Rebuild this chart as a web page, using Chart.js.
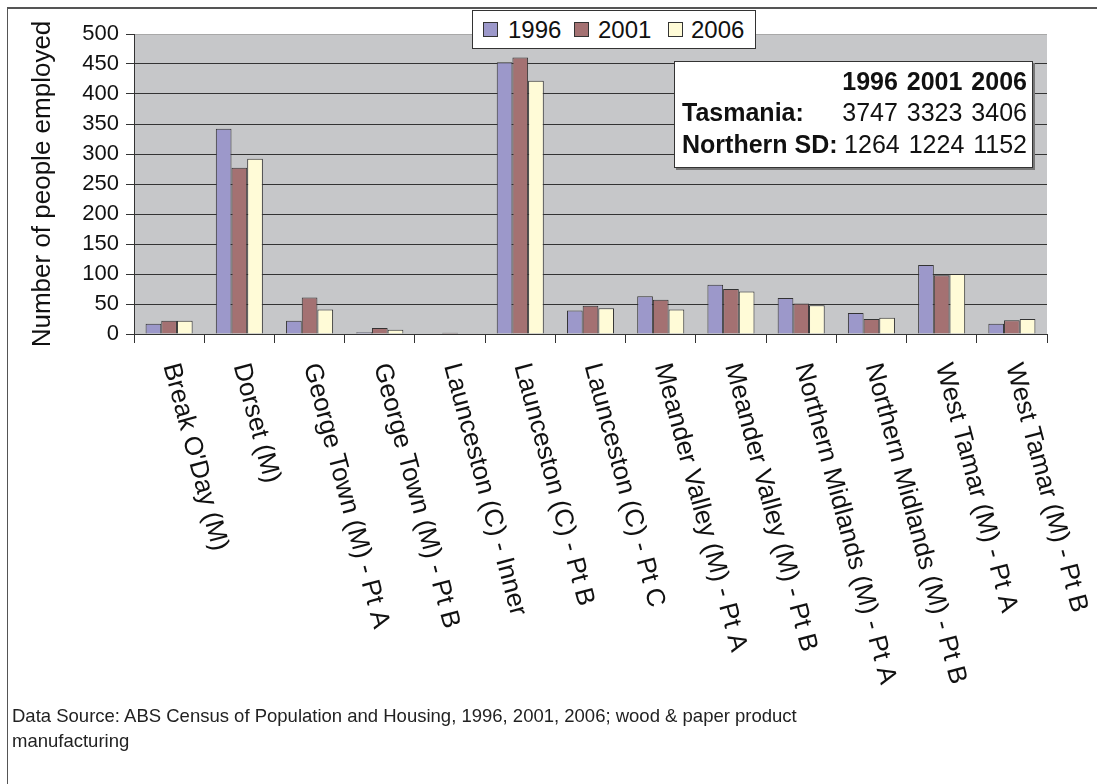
<!DOCTYPE html>
<html>
<head>
<meta charset="utf-8">
<script src="https://cdn.jsdelivr.net/npm/chart.js@4/dist/chart.umd.min.js"></script>
<style>
  body { margin: 0; background: #fff; font-family: "Liberation Sans", Arial, sans-serif; color: #111; }
  #wrap { position: relative; width: 1097px; height: 784px; overflow: hidden; }
  #frame { position: absolute; left: 7px; top: 7px; width: 1200px; height: 900px;
           border-top: 2px solid #555; border-left: 1px solid #555; pointer-events: none; }
  #legend { position: absolute; left: 472px; top: 10px; width: 282px; height: 37px;
            background: #fff; border: 1px solid #333; font-size: 24px; line-height: 37px; }
  .it { position: absolute; top: 0; }
  .sw { position: absolute; top: 11px; width: 13px; height: 13px; border: 1px solid #333; }
  #table { position: absolute; left: 674px; top: 61px; width: 357px; height: 105px;
           background: #fff; border: 1px solid #333; box-shadow: 2px 2px 0 #777; font-size: 25px; }
  .row { position: absolute; left: 7px; right: 5px; height: 30px; line-height: 30px; }
  .row b { position: absolute; left: 0; }
  .row span { position: absolute; right: 0; word-spacing: 2px; }
  #note { position: absolute; left: 12px; top: 703px; font-size: 18.5px; line-height: 25px; color: #222; }
</style>
</head>
<body>
<div id="wrap">
  <canvas id="myChart" width="1097" height="784"></canvas>
  <div id="frame"></div>
  <div id="legend"></div>
  <div id="table"></div>
  <div id="note">Data Source: ABS Census of Population and Housing, 1996, 2001, 2006; wood &amp; paper product<br>manufacturing</div>
</div>
<script>
// Dados
var categorias = [
    "Break O'Day (M)",
    "Dorset (M)",
    "George Town (M) - Pt A",
    "George Town (M) - Pt B",
    "Launceston (C) - Inner",
    "Launceston (C) - Pt B",
    "Launceston (C) - Pt C",
    "Meander Valley (M) - Pt A",
    "Meander Valley (M) - Pt B",
    "Northern Midlands (M) - Pt A",
    "Northern Midlands (M) - Pt B",
    "West Tamar (M) - Pt A",
    "West Tamar (M) - Pt B"
];
var anos = ['1996', '2001', '2006'];
var v1996 = [17, 342, 22, 3, 0, 453, 39, 63, 82, 60, 35, 115, 17];
var v2001 = [22, 277, 61, 10, 2, 461, 47, 57, 75, 51, 25, 98, 23];
var v2006 = [22, 292, 41, 7, 0, 422, 43, 41, 71, 48, 27, 100, 25];
var tasmania = [3747, 3323, 3406];
var northernSD = [1264, 1224, 1152];
var yTicks = [0, 50, 100, 150, 200, 250, 300, 350, 400, 450, 500];

var cores = ['#9C98CA', '#A47172', '#FFFBD7'];
var fonte = '"Liberation Sans", Arial, sans-serif';

// legenda
var legendX = [[10, 35], [101, 125], [195, 218]];
var leg = document.getElementById('legend');
anos.forEach(function (a, i) {
    leg.innerHTML += '<div class="sw" style="left:' + legendX[i][0] + 'px;background:' + cores[i] + '"></div>' +
        '<div class="it" style="left:' + legendX[i][1] + 'px">' + a + '</div>';
});

// tabela
var tab = document.getElementById('table');
tab.innerHTML =
    '<div class="row" style="top:4px"><span><b style="position:static">' + anos.join(' ') + '</b></span></div>' +
    '<div class="row" style="top:35px"><b>Tasmania:</b><span>' + tasmania.join(' ') + '</span></div>' +
    '<div class="row" style="top:67px"><b>Northern SD:</b><span>' + northernSD.join(' ') + '</span></div>';

// fundo da area do grafico
var fundo = {
    id: 'fundo',
    beforeDraw: function (chart) {
        var a = chart.chartArea, ctx = chart.ctx;
        ctx.save();
        ctx.fillStyle = '#C6C7C9';
        ctx.fillRect(a.left, a.top, a.right - a.left, a.bottom - a.top);
        ctx.restore();
    }
};

// rotulos do eixo x girados
var rotulos = {
    id: 'rotulos',
    afterDraw: function (chart) {
        var ctx = chart.ctx, x = chart.scales.x;
        ctx.save();
        ctx.fillStyle = '#111';
        ctx.font = '26px ' + fonte;
        ctx.textAlign = 'left';
        ctx.textBaseline = 'middle';
        categorias.forEach(function (c, i) {
            ctx.save();
            ctx.translate(x.getPixelForValue(i) + 1, chart.chartArea.bottom + 30);
            ctx.rotate(75 * Math.PI / 180);
            ctx.fillText(c, 0, 0);
            ctx.restore();
        });
        ctx.restore();
    }
};

var data = {
    labels: categorias,
    datasets: [
        { label: anos[0], data: v1996, backgroundColor: cores[0] },
        { label: anos[1], data: v2001, backgroundColor: cores[1] },
        { label: anos[2], data: v2006, backgroundColor: cores[2] }
    ].map(function (d) {
        d.borderColor = '#333';
        d.borderWidth = 1;
        d.borderSkipped = 'bottom';
        d.categoryPercentage = 0.67;
        d.barPercentage = 1.0;
        return d;
    })
};

var config = {
    type: 'bar',
    data: data,
    options: {
        responsive: false,
        animation: false,
        layout: { padding: { top: 34, right: 50, left: 0, bottom: 0 } },
        plugins: {
            legend: { display: false },
            tooltip: { enabled: false }
        },
        scales: {
            x: {
                grid: { drawOnChartArea: false, drawTicks: true, tickLength: 9, color: '#333', offset: true },
                border: { color: '#333', width: 1 },
                ticks: { display: false },
                afterFit: function (s) { s.height = 450; }
            },
            y: {
                min: 0,
                max: 500,
                afterBuildTicks: function (s) { s.ticks = yTicks.map(function (v) { return { value: v }; }); },
                grid: {
                    color: function (c) { return c.tick && c.tick.value === 500 ? '#A8A8A8' : '#333'; },
                    tickColor: '#333',
                    tickLength: 8
                },
                border: { color: '#333', width: 1 },
                ticks: { color: '#111', padding: 7, autoSkip: false, font: { family: fonte, size: 22 } },
                title: {
                    display: true,
                    text: 'Number of people employed',
                    color: '#111',
                    font: { family: fonte, size: 26 },
                    padding: { top: 27, bottom: 0 }
                },
                afterFit: function (s) { s.width = 134; }
            }
        }
    },
    plugins: [fundo, rotulos]
};

var myChart = new Chart(document.getElementById('myChart'), config);
</script>
</body>
</html>
